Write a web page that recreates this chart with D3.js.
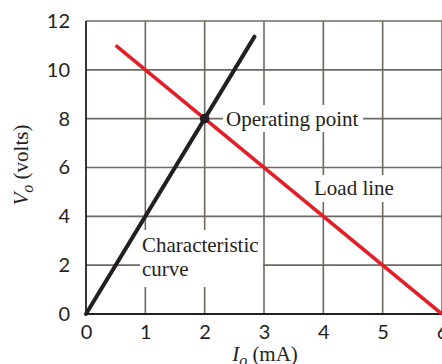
<!DOCTYPE html>
<html><head><meta charset="utf-8">
<script src="https://cdn.jsdelivr.net/npm/d3@7"></script>
<style>body{margin:0;background:#fff}svg{display:block}</style>
</head><body>
<script>
const xTicks = [0,1,2,3,4,5,6];
const yTicks = [0,2,4,6,8,10,12];
const charCurveI = [0, 2.84];
const charCurveV = [0, 11.36];
const loadLineI = [0.5, 6];
const loadLineV = [11, 0];
const opPoint = [2, 8];

const W = 442, H = 364;
const svg = d3.select("body").append("svg").attr("width", W).attr("height", H);
const x = d3.scaleLinear().domain([0,6]).range([86,442]);
const y = d3.scaleLinear().domain([0,12]).range([314,21]);
const ink = "#231f20", grid = "#6e6860";
const serif = "'Liberation Serif','Times New Roman',serif";
const sans = "Lato, 'Open Sans', sans-serif";

// grid
svg.append("g").selectAll("line").data(xTicks.slice(1)).join("line")
  .attr("x1", d=>x(d)).attr("x2", d=>x(d)).attr("y1", y(12)).attr("y2", y(0))
  .attr("stroke", grid).attr("stroke-width", 1.6);
svg.append("g").selectAll("line").data(yTicks.slice(1)).join("line")
  .attr("x1", x(0)).attr("x2", x(6)).attr("y1", d=>y(d)).attr("y2", d=>y(d))
  .attr("stroke", grid).attr("stroke-width", 1.6);

// label backgrounds
const boxes = [[223,105,140,27],[311,175,85,27],[140,230,123,57]];
svg.append("g").selectAll("rect").data(boxes).join("rect")
  .attr("x", d=>d[0]).attr("y", d=>d[1]).attr("width", d=>d[2]).attr("height", d=>d[3])
  .attr("fill", "#fff");

// axes lines
svg.append("line").attr("x1", x(0)).attr("x2", x(0)).attr("y1", y(12)).attr("y2", y(0)).attr("stroke", ink).attr("stroke-width", 1.8);
svg.append("line").attr("x1", x(0)).attr("x2", x(6)).attr("y1", y(0)).attr("y2", y(0)).attr("stroke", ink).attr("stroke-width", 1.8);

// tick labels via axes
const xa = svg.append("g").attr("transform", `translate(0,${y(0)})`)
  .call(d3.axisBottom(x).tickValues(xTicks).tickSize(0).tickPadding(11).tickFormat(d3.format("d")));
const ya = svg.append("g").attr("transform", `translate(${x(0)},0)`)
  .call(d3.axisLeft(y).tickValues(yTicks).tickSize(0).tickPadding(16).tickFormat(d3.format("d")));
[xa, ya].forEach(g => {
  g.select(".domain").remove();
  g.selectAll("text").attr("font-family", sans).attr("font-size", 20).attr("fill", ink);
});

// data lines
const line = d3.line().x(d=>x(d[0])).y(d=>y(d[1]));
svg.append("path").datum(loadLineI.map((v,i)=>[v, loadLineV[i]]))
  .attr("d", line).attr("stroke", "#e31e26").attr("stroke-width", 3.6).attr("fill", "none");
svg.append("path").datum(charCurveI.map((v,i)=>[v, charCurveV[i]]))
  .attr("d", line).attr("stroke", ink).attr("stroke-width", 4).attr("fill", "none").attr("stroke-linecap", "round");
svg.append("circle").attr("cx", x(opPoint[0])).attr("cy", y(opPoint[1])).attr("r", 4.8).attr("fill", ink);

// annotations
const ann = svg.append("g").attr("font-family", serif).attr("font-size", 21).attr("fill", ink);
ann.append("text").attr("x", 226).attr("y", 126).text("Operating point");
ann.append("text").attr("x", 314).attr("y", 195).text("Load line");
ann.append("text").attr("x", 142).attr("y", 252).text("Characteristic");
ann.append("text").attr("x", 142).attr("y", 276).text("curve");

// axis titles
const xt = svg.append("text").attr("x", 265).attr("y", 361).attr("text-anchor", "middle")
  .attr("font-family", serif).attr("font-size", 21).attr("fill", ink);
xt.append("tspan").attr("font-style", "italic").text("I");
xt.append("tspan").attr("font-style", "italic").attr("font-size", 16).attr("dy", 5).text("o");
xt.append("tspan").attr("dy", -5).text(" (mA)");

const yt = svg.append("text").attr("transform", "translate(28,165) rotate(-90)").attr("text-anchor", "middle")
  .attr("font-family", serif).attr("font-size", 21).attr("fill", ink);
yt.append("tspan").attr("font-style", "italic").text("V");
yt.append("tspan").attr("font-style", "italic").attr("font-size", 16).attr("dy", 5).text("o");
yt.append("tspan").attr("dy", -5).text(" (volts)");
</script>
</body></html>
